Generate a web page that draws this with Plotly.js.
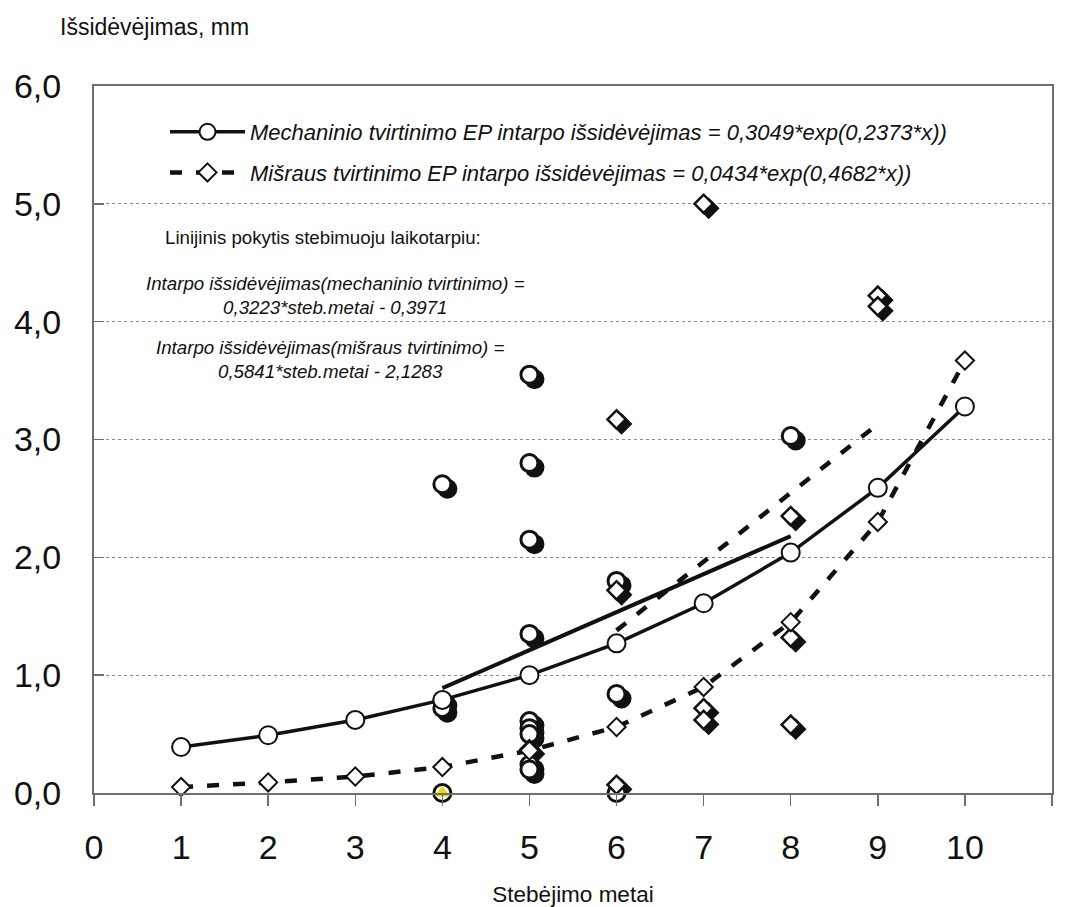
<!DOCTYPE html>
<html>
<head>
<meta charset="utf-8">
<script src="https://cdn.plot.ly/plotly-3.0.1.min.js"></script>
<style>html,body{margin:0;padding:0;background:#fff}#chart{width:1068px;height:907px}</style>
</head>
<body>
<div id="chart"></div>
<script>
// ---- data ----
const fitYears = [1, 2, 3, 4, 5, 6, 7, 8, 9, 10];
const mechFit = [0.39, 0.49, 0.62, 0.79, 1.00, 1.27, 1.61, 2.04, 2.59, 3.28];
const mixFit = [0.05, 0.09, 0.14, 0.22, 0.36, 0.56, 0.90, 1.45, 2.30, 3.67];

const mechLinX = [4, 8];
const mechLinY = [0.89, 2.18];
const mixLinX = [6, 9];
const mixLinY = [1.38, 3.13];

const mechObsX = [4, 4, 4, 4, 5, 5, 5, 5, 5, 5, 5, 5, 5, 6, 6, 6, 8];
const mechObsY = [2.62, 0.78, 0.72, 0.00, 3.55, 2.80, 2.15, 1.35, 0.61, 0.55, 0.50, 0.24, 0.20, 1.80, 0.84, 0.00, 3.03];
const mixObsX = [5, 6, 6, 6, 7, 7, 7, 8, 8, 8, 9, 9];
const mixObsY = [0.37, 3.17, 1.72, 0.07, 5.00, 0.72, 0.62, 2.35, 1.32, 0.58, 4.22, 4.13];
const markX = [4];
const markY = [0.00];

const xTicks = [0, 1, 2, 3, 4, 5, 6, 7, 8, 9, 10, 11];
const yTicks = [0, 1, 2, 3, 4, 5, 6];

const mechName = '<i>Mechaninio tvirtinimo EP intarpo išsidėvėjimas = 0,3049*exp(0,2373*x))</i>';
const mixName = '<i>Mišraus tvirtinimo EP intarpo išsidėvėjimas = 0,0434*exp(0,4682*x))</i>';

// ---- layout constants ----
const FONT = 'Liberation Sans, Arial, Helvetica, sans-serif';
const W = 1068, H = 907;
const M = {l: 94, r: 16, t: 86, b: 114};
const xRange = [0, 11], yRange = [0, 6];
const plotW = W - M.l - M.r, plotH = H - M.t - M.b;
const shadowDxPx = 5, shadowDyPx = 4.5;
const dx = shadowDxPx * (xRange[1] - xRange[0]) / plotW;
const dy = shadowDyPx * (yRange[1] - yRange[0]) / plotH;

const CIRC = 17, DIAM = 14;

const traces = [
  // shadows (base, shifted axes)
  {x: mechObsX, y: mechObsY, xaxis: 'x', yaxis: 'y', mode: 'markers', type: 'scatter', showlegend: false, cliponaxis: false,
   marker: {symbol: 'circle', size: CIRC, color: '#111', line: {color: '#111', width: 3}}, hoverinfo: 'skip'},
  {x: mixObsX, y: mixObsY, xaxis: 'x', yaxis: 'y', mode: 'markers', type: 'scatter', showlegend: false, cliponaxis: false,
   marker: {symbol: 'diamond', size: DIAM, color: '#111', line: {color: '#111', width: 2.5}}, hoverinfo: 'skip'},
  // observed markers
  {x: mechObsX, y: mechObsY, xaxis: 'x2', yaxis: 'y2', mode: 'markers', type: 'scatter', showlegend: false, cliponaxis: false,
   marker: {symbol: 'circle', size: CIRC, color: '#fff', line: {color: '#111', width: 3}}},
  {x: mixObsX, y: mixObsY, xaxis: 'x2', yaxis: 'y2', mode: 'markers', type: 'scatter', showlegend: false, cliponaxis: false,
   marker: {symbol: 'diamond', size: DIAM, color: '#fff', line: {color: '#111', width: 2.5}}},
  // linear trends
  {x: mechLinX, y: mechLinY, xaxis: 'x2', yaxis: 'y2', mode: 'lines', type: 'scatter', showlegend: false,
   line: {color: '#111', width: 4}},
  {x: mixLinX, y: mixLinY, xaxis: 'x2', yaxis: 'y2', mode: 'lines', type: 'scatter', showlegend: false,
   line: {color: '#111', width: 4.5, dash: '12px,14px'}},
  // exponential fits
  {x: fitYears, y: mechFit, xaxis: 'x2', yaxis: 'y2', mode: 'lines+markers', type: 'scatter', name: mechName,
   legendgroup: 'a', cliponaxis: false,
   line: {color: '#111', width: 3.5},
   marker: {symbol: 'circle', size: 18, color: '#fff', line: {color: '#111', width: 2}}},
  {x: fitYears, y: mixFit, xaxis: 'x2', yaxis: 'y2', mode: 'lines+markers', type: 'scatter', name: mixName,
   legendgroup: 'b', cliponaxis: false,
   line: {color: '#111', width: 4.5, dash: '12px,14px'},
   marker: {symbol: 'diamond', size: 14, color: '#fff', line: {color: '#111', width: 2}}},
  // yellow marker
  {x: markX, y: markY, xaxis: 'x2', yaxis: 'y2', mode: 'markers', type: 'scatter', showlegend: false, cliponaxis: false,
   marker: {symbol: 'triangle-up', size: 12, color: '#f0dc00', line: {color: '#e8d400', width: 1}}}
];

const px2x = p => (p - M.l) / plotW;
const px2y = p => (H - M.b - p) / plotH;

const layout = {
  width: W, height: H,
  margin: M,
  paper_bgcolor: '#fff', plot_bgcolor: '#fff',
  separators: ', ',
  font: {family: FONT, color: '#111'},
  showlegend: true,
  legend: {
    x: px2x(165), y: px2y(111), xanchor: 'left', yanchor: 'top',
    bgcolor: 'rgba(0,0,0,0)', borderwidth: 0,
    font: {family: FONT, size: 22, color: '#111'},
    itemwidth: 75, traceorder: 'grouped', tracegroupgap: 9
  },
  xaxis: {range: [xRange[0] - dx, xRange[1] - dx], visible: false, showgrid: false, zeroline: false, fixedrange: true},
  yaxis: {range: [yRange[0] + dy, yRange[1] + dy], visible: false, showgrid: false, zeroline: false, fixedrange: true},
  xaxis2: {
    overlaying: 'x', side: 'bottom', anchor: 'y2',
    range: xRange, tickvals: xTicks, ticktext: xTicks.map(String),
    showgrid: false, zeroline: false,
    showline: true, linecolor: '#6e6e6e', linewidth: 2, mirror: true,
    ticks: 'outside', ticklen: 11, tickwidth: 1.5, tickcolor: '#6e6e6e',
    tickfont: {family: FONT, size: 34, color: '#111'},
    ticklabelstandoff: 12,
    title: {text: 'Stebėjimo metai', font: {family: FONT, size: 22.5, color: '#111'}, standoff: 22}
  },
  yaxis2: {
    overlaying: 'y', side: 'left', anchor: 'x2',
    range: yRange, tickvals: yTicks, tickformat: '.1f',
    showgrid: true, gridcolor: '#8a8a8a', gridwidth: 1, griddash: 'dot',
    zeroline: false,
    showline: true, linecolor: '#6e6e6e', linewidth: 2, mirror: true,
    ticks: 'inside', ticklen: 10, tickwidth: 1.5, tickcolor: '#6e6e6e',
    tickfont: {family: FONT, size: 34, color: '#111'},
    ticklabelstandoff: 24
  },
  annotations: [
    {text: 'Išsidėvėjimas, mm', xref: 'paper', yref: 'paper', x: px2x(154), y: px2y(27),
     xanchor: 'center', yanchor: 'middle', showarrow: false, font: {family: FONT, size: 23, color: '#111'}},
    {text: 'Linijinis pokytis stebimuoju laikotarpiu:', xref: 'paper', yref: 'paper', x: px2x(323), y: px2y(237),
     xanchor: 'center', yanchor: 'middle', showarrow: false, font: {family: FONT, size: 18.7, color: '#111'}},
    {text: '<i>Intarpo išsidėvėjimas(mechaninio tvirtinimo) =<br>0,3223*steb.metai - 0,3971</i>', xref: 'paper', yref: 'paper',
     x: px2x(335), y: px2y(295), xanchor: 'center', yanchor: 'middle', showarrow: false, align: 'center',
     font: {family: FONT, size: 18.7, color: '#111'}},
    {text: '<i>Intarpo išsidėvėjimas(mišraus tvirtinimo) =<br>0,5841*steb.metai - 2,1283</i>', xref: 'paper', yref: 'paper',
     x: px2x(330), y: px2y(360), xanchor: 'center', yanchor: 'middle', showarrow: false, align: 'center',
     font: {family: FONT, size: 18.7, color: '#111'}}
  ]
};

Plotly.newPlot('chart', traces, layout, {displayModeBar: false, staticPlot: true});
</script>
</body>
</html>
